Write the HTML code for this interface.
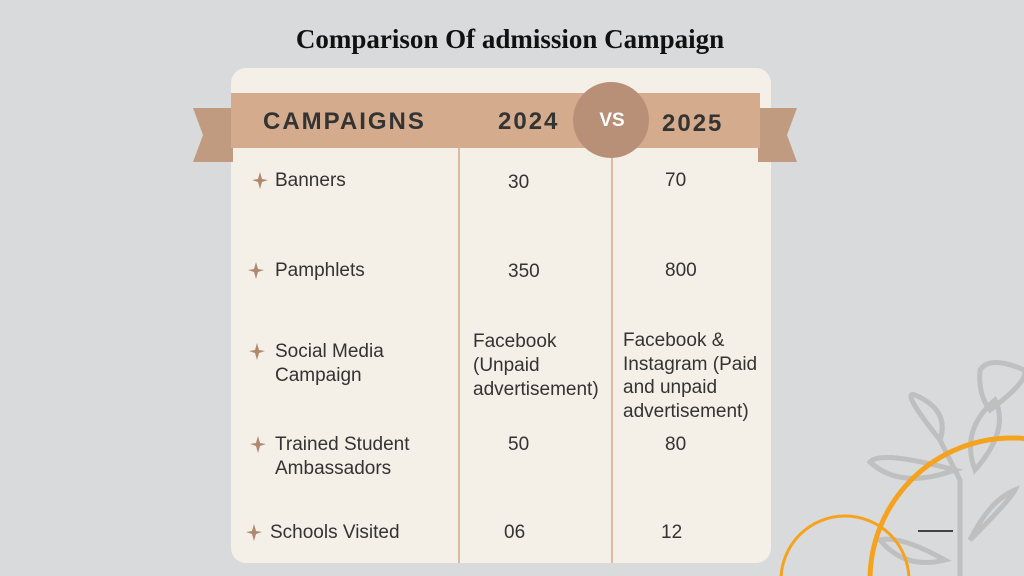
<!DOCTYPE html>
<html style="width:1024px;height:576px;overflow:hidden"><head><style>
html,body{margin:0;padding:0;}
body{width:1024px;height:576px;overflow:hidden;background:#d9dadb;position:relative;font-family:"Liberation Sans",sans-serif;}
.a{position:absolute;}
.t{font-size:19px;color:#333;line-height:24px;}
.h{font-weight:bold;font-size:24px;color:#333;letter-spacing:2px;}
</style></head><body>
<svg class="a" style="left:0;top:0;display:block" width="1024" height="576">
<g fill="none" stroke="#bdbdbd" stroke-width="5" opacity="0.9">
<path d="M960 576 L960 480 L940 440"/>
<path d="M940 440 Q900 390 915 395 Q950 410 940 440Z"/>
<path d="M955 470 Q880 450 870 462 Q900 490 955 470Z"/>
<path d="M975 470 Q1010 430 995 400 Q960 430 975 470Z"/>
<path d="M990 410 Q1030 380 1024 370 Q990 355 980 370 Q978 395 990 410Z"/>
<path d="M970 540 Q1010 500 1015 490 Q990 500 970 540Z"/>
<path d="M945 560 Q900 535 880 540 Q905 570 945 560Z"/>
</g>
<circle cx="1012" cy="580" r="142" fill="none" stroke="#f5a31e" stroke-width="5"/>
<circle cx="845" cy="580" r="64" fill="none" stroke="#f5a31e" stroke-width="3"/>
<line x1="918" y1="531" x2="953" y2="531" stroke="#111" stroke-width="1.5"/>
<rect x="231" y="68" width="540" height="495" rx="15" fill="#f4efe7"/>
<polygon points="193,108 233,108 233,162 193,162 203,135" fill="#c09b80"/>
<polygon points="758,108 797,108 787,135 797,162 758,162" fill="#c09b80"/>
<rect x="231" y="93" width="529" height="55" fill="#d4ab8c"/>
<line x1="459" y1="148" x2="459" y2="563" stroke="#d4a98a" stroke-width="1.5"/>
<line x1="612" y1="148" x2="612" y2="563" stroke="#d4a98a" stroke-width="1.5"/>
<circle cx="611" cy="120" r="38" fill="#b89078"/>
<text x="612" y="126" text-anchor="middle" fill="#fff" font-family="Liberation Sans" font-weight="bold" font-size="19">VS</text>
<g fill="#b08870">
<path d="M260 172 L262 179 L268 180 L262 182 L260 189 L258 182 L252 180 L258 179Z"/>
<path d="M256 262 L258 269 L264 270 L258 272 L256 279 L254 272 L248 270 L254 269Z"/>
<path d="M257 343 L259 350 L265 351 L259 353 L257 360 L255 353 L249 351 L255 350Z"/>
<path d="M258 436 L260 443 L266 444 L260 446 L258 453 L256 446 L250 444 L256 443Z"/>
<path d="M254 524 L256 531 L262 532 L256 534 L254 541 L252 534 L246 532 L252 531Z"/>
</g>
</svg>
<div class="a" style="left:0;width:1020px;top:24px;text-align:center;font-family:'Liberation Serif',serif;font-weight:bold;font-size:27px;color:#111;">Comparison Of admission Campaign</div>
<div class="a h" style="left:263px;top:108px;">CAMPAIGNS</div>
<div class="a h" style="left:498px;top:108px;">2024</div>
<div class="a h" style="left:662px;top:110px;">2025</div>
<div class="a t" style="left:275px;top:169px;">Banners</div>
<div class="a t" style="left:508px;top:171px;">30</div>
<div class="a t" style="left:665px;top:169px;">70</div>
<div class="a t" style="left:275px;top:259px;">Pamphlets</div>
<div class="a t" style="left:508px;top:260px;">350</div>
<div class="a t" style="left:665px;top:259px;">800</div>
<div class="a t" style="left:275px;top:340px;">Social Media<br>Campaign</div>
<div class="a t" style="left:473px;top:330px;">Facebook<br>(Unpaid<br>advertisement)</div>
<div class="a t" style="left:623px;top:329px;line-height:23.5px;">Facebook &amp;<br>Instagram (Paid<br>and unpaid<br>advertisement)</div>
<div class="a t" style="left:275px;top:433px;">Trained Student<br>Ambassadors</div>
<div class="a t" style="left:508px;top:433px;">50</div>
<div class="a t" style="left:665px;top:433px;">80</div>
<div class="a t" style="left:270px;top:521px;">Schools Visited</div>
<div class="a t" style="left:504px;top:521px;">06</div>
<div class="a t" style="left:661px;top:521px;">12</div>
</body></html>
